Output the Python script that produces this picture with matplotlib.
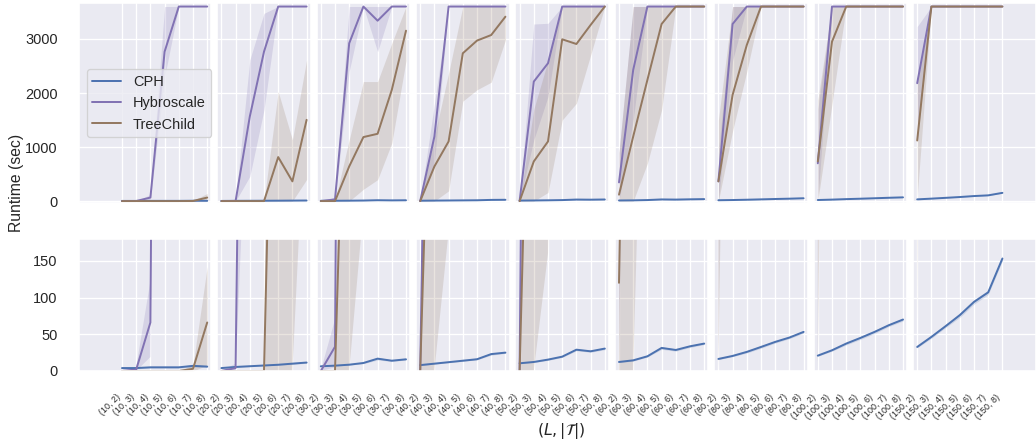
import numpy as np
import matplotlib
matplotlib.use("Agg")
import matplotlib.pyplot as plt
import seaborn as sns

# data: one row per L, one value per |T| (2..8)
L_values = [10, 20, 30, 40, 50, 60, 80, 100, 150]
T_values = [2, 3, 4, 5, 6, 7, 8]

cph_mean = [[4, 4, 5, 5, 5, 7, 6],
            [4, 5.5, 6.5, 7.5, 8.5, 10, 11.5],
            [6.4, 7.3, 8.6, 10.9, 16.8, 14, 15.9],
            [8, 10, 12, 14, 16, 23, 25],
            [10.5, 12.3, 15.5, 19.5, 29, 26.8, 30.5],
            [12.3, 14.5, 20, 31.4, 28.6, 33.6, 37.3],
            [16.4, 20.5, 26, 32.7, 39.6, 45.5, 53.2],
            [20.9, 28.2, 37.3, 45, 53.2, 62.3, 70],
            [32.7, 46.4, 61, 76, 94, 107, 153]]
cph_lo = [[3, 3, 4, 4, 4, 5, 5],
          [3.5, 5, 6, 7, 8, 9, 10.5],
          [5.8, 6.8, 8, 10, 15, 13, 15],
          [7.4, 9.3, 11.3, 13.2, 15.2, 21.5, 24],
          [9.8, 11.5, 14.5, 18.5, 27.5, 25.5, 29],
          [11.5, 13.5, 19, 29.5, 27, 32, 36],
          [15.5, 19.5, 24.5, 31, 38, 44, 51.5],
          [20, 27, 35.5, 43, 51, 60.5, 68],
          [31.5, 44.5, 59, 73, 91, 104, 150]]
cph_hi = [[5, 5, 6, 6, 6, 9, 7],
          [4.5, 6, 7, 8, 9, 11, 12.5],
          [7, 7.8, 9.2, 11.8, 18.5, 15, 16.8],
          [8.6, 10.5, 12.8, 15, 17.5, 24.5, 26],
          [11.2, 13, 16.5, 20.5, 30.5, 28, 32],
          [13, 15.5, 21, 33, 30, 35, 38.5],
          [17.5, 21.5, 27.5, 34.5, 41, 47, 55],
          [22, 29.5, 39, 47, 55.5, 64, 72],
          [34, 48.5, 63, 79, 97, 110, 156]]

hyb_mean = [[0, 2, 66, 2765, 3600, 3600, 3600],
            [0, 4, 1565, 2765, 3600, 3600, 3600],
            [0, 33, 2920, 3600, 3338, 3600, 3600],
            [0, 1196, 3600, 3600, 3600, 3600, 3600],
            [0, 2212, 2551, 3600, 3600, 3600, 3600],
            [347, 2428, 3600, 3600, 3600, 3600, 3600],
            [366, 3277, 3600, 3600, 3600, 3600, 3600],
            [700, 3600, 3600, 3600, 3600, 3600, 3600],
            [2182, 3600, 3600, 3600, 3600, 3600, 3600]]
hyb_lo = [[0, 0, 19, 2300, 3600, 3600, 3600],
          [0, 0, 458, 1690, 3600, 3600, 3600],
          [0, 5, 2400, 3600, 2765, 3600, 3600],
          [0, 700, 3600, 3600, 3600, 3600, 3600],
          [0, 1135, 1935, 3600, 3600, 3600, 3600],
          [0, 1500, 3600, 3600, 3600, 3600, 3600],
          [0, 2600, 3600, 3600, 3600, 3600, 3600],
          [0, 3600, 3600, 3600, 3600, 3600, 3600],
          [1100, 3600, 3600, 3600, 3600, 3600, 3600]]
hyb_hi = [[0, 5, 122, 3600, 3600, 3600, 3600],
          [0, 10, 2612, 3474, 3600, 3600, 3600],
          [0, 70, 3600, 3600, 3600, 3600, 3600],
          [0, 1800, 3600, 3600, 3600, 3600, 3600],
          [0, 3277, 3290, 3600, 3600, 3600, 3600],
          [900, 3600, 3600, 3600, 3600, 3600, 3600],
          [900, 3600, 3600, 3600, 3600, 3600, 3600],
          [1700, 3600, 3600, 3600, 3600, 3600, 3600],
          [3230, 3600, 3600, 3600, 3600, 3600, 3600]]

tc_mean = [[0, 0, 0, 0, 0, 3, 66],
           [0, 0, 0, 0, 815, 366, 1504],
           [0, 0, 642, 1185, 1246, 2058, 3153],
           [0, 642, 1104, 2735, 2970, 3073, 3412],
           [0, 735, 1104, 2994, 2907, 3259, 3600],
           [120, 1196, 2243, 3277, 3600, 3600, 3600],
           [366, 1966, 2889, 3600, 3600, 3600, 3600],
           [735, 2950, 3600, 3600, 3600, 3600, 3600],
           [1122, 3600, 3600, 3600, 3600, 3600, 3600]]
tc_lo = [[0, 0, 0, 0, 0, 0, 8],
         [0, 0, 0, 0, 0, 0, 400],
         [0, 0, 0, 220, 397, 1075, 2600],
         [0, 0, 190, 1850, 2060, 2200, 2980],
         [0, 0, 160, 1500, 1810, 2700, 3600],
         [0, 0, 700, 1690, 3600, 3600, 3600],
         [0, 1300, 2400, 3600, 3600, 3600, 3600],
         [0, 1800, 3600, 3600, 3600, 3600, 3600],
         [69, 3600, 3600, 3600, 3600, 3600, 3600]]
tc_hi = [[0, 0, 0, 0, 0, 8, 142],
         [0, 0, 0, 0, 2027, 1135, 2612],
         [0, 0, 1135, 2212, 2212, 2920, 3600],
         [0, 1190, 2370, 3600, 3600, 3600, 3600],
         [0, 1700, 2600, 3600, 3600, 3600, 3600],
         [900, 3600, 3600, 3600, 3600, 3600, 3600],
         [1500, 3600, 3600, 3600, 3600, 3600, 3600],
         [1870, 3600, 3600, 3600, 3600, 3600, 3600],
         [2200, 3600, 3600, 3600, 3600, 3600, 3600]]

sns.set_theme(style="darkgrid")
plt.rcParams["font.family"] = ["Liberation Sans", "DejaVu Sans"]
pal = sns.color_palette("deep")
methods = [("CPH", cph_mean, cph_lo, cph_hi, pal[0]),
           ("Hybroscale", hyb_mean, hyb_lo, hyb_hi, pal[4]),
           ("TreeChild", tc_mean, tc_lo, tc_hi, pal[5])]

W, H, DPI = 1036, 440, 94.5
fig = plt.figure(figsize=(W / DPI, H / DPI), dpi=DPI)

# broken x axis: pixel position of category 0 and pixels per category
x0_px, ppu = 122, 14.2
panel_xlims = [(-3.0, 6.3)] + [(7 * k - 0.3, 7 * k + 6.3) for k in range(1, 8)] + [(55.7, 64.35)]
rows = [  # (top px, bottom px, ylim, yticks)
    (3.3, 203.3, (-40, 3660), [0, 1000, 2000, 3000]),
    (238.7, 371.0, (0, 180), [0, 50, 100, 150]),
]

for r, (top_px, bot_px, ylim, yticks) in enumerate(rows):
    for k, L in enumerate(L_values):
        a, b = panel_xlims[k]
        left = (x0_px + ppu * a) / W
        width = ppu * (b - a) / W
        ax = fig.add_axes([left, 1 - bot_px / H, width, (bot_px - top_px) / H])
        x = np.arange(7 * k, 7 * k + 7)
        for name, mean, lo, hi, color in methods:
            ax.fill_between(x, lo[k], hi[k], color=color, alpha=0.2, linewidth=0)
            ax.plot(x, mean[k], color=color, label=name)
        ax.set_xlim(a, b)
        ax.set_ylim(*ylim)
        ax.set_xticks(x)
        ax.set_yticks(yticks)
        ax.tick_params(axis="x", pad=10.5)
        ax.tick_params(axis="y", pad=10.5)
        if r == 1:
            ax.set_xticklabels([f"({L}, {t})" for t in T_values], rotation=45,
                               ha="right", fontsize=6.8)
        else:
            ax.tick_params(labelbottom=False)
        if k > 0:
            ax.tick_params(labelleft=False)
        if r == 0 and k == 0:
            ax.legend(loc="center left")

fig.text(17 / W, 1 - 183 / H, "Runtime (sec)", rotation=90, ha="center", va="center", fontsize=12)
fig.text(561 / W, 1 - 431 / H, r"$(L, |\mathcal{T}|)$", ha="center", va="center", fontsize=12)

fig.savefig("out.png", dpi=DPI)
